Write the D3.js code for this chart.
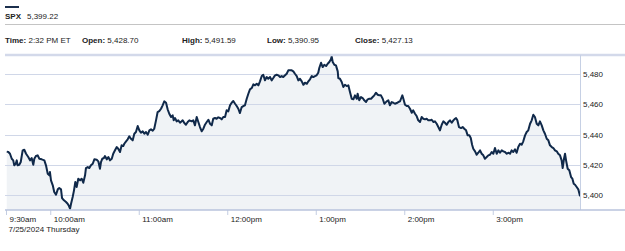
<!DOCTYPE html>
<html><head><meta charset="utf-8">
<script src="https://cdn.jsdelivr.net/npm/d3@7"></script>
<style>
body{margin:0;background:#fff}
svg{display:block;font-family:Arial,"Liberation Sans",Helvetica,sans-serif}
</style>
</head><body>
<svg id="c" width="625" height="251"></svg>
<script>
const symbol = "SPX";
const lastPrice = "5,399.22";
const statLabels = ["Time:", "Open:", "High:", "Low:", "Close:"];
const statValues = ["2:32 PM ET", "5,428.70", "5,491.59", "5,390.95", "5,427.13"];
const xTickLabels = ["9:30am", "10:00am", "11:00am", "12:00pm", "1:00pm", "2:00pm", "3:00pm"];
const xTickMinutes = [0, 30, 90, 150, 210, 270, 330];
const dateLabel = "7/25/2024 Thursday";
const yTicks = [5400, 5420, 5440, 5460, 5480];

// minutes after 9:30am
const minutes = [
0.5,1.6,2.7,3.9,4.9,5.6,6.6,7.3,7.9,9.0,10.0,11.3,12.4,13.6,15.1,16.3,17.4,18.5,19.2,20.3,21.5,22.6,24.2,26.0,27.1,28.3,29.4,29.8,30.5,31.7,32.7,33.9,35.1,36.1,37.3,38.0,39.3,40.7,41.8,42.7,43.4,44.1,45.2,46.1,47.0,47.9,49.0,50.2,51.3,52.4,53.6,54.2,55.4,56.5,57.6,58.8,59.9,
61.5,62.6,63.7,64.4,65.3,66.4,67.1,68.3,69.4,70.5,71.7,72.7,73.9,75.1,76.1,77.3,78.4,79.5,80.2,81.4,82.5,83.6,84.7,85.9,87.0,88.1,89.3,90.4,91.5,92.7,93.8,94.9,96.1,97.2,98.3,99.5,100.5,101.7,102.8,103.9,105.1,106.2,107.3,108.5,109.6,110.7,111.9,113.0,113.7,114.6,115.7,116.8,118.0,119.1,119.8,120.9,122.0,123.2,124.3,
125.9,127.0,128.1,129.3,130.4,131.5,132.7,133.8,134.9,136.1,137.2,138.3,139.5,140.5,141.7,142.8,143.9,145.1,146.2,147.3,148.5,149.6,150.7,151.9,153.0,154.1,155.3,156.4,157.5,158.6,159.8,160.9,162.0,163.2,164.3,165.4,166.6,167.7,168.8,170.0,171.1,172.2,173.4,174.4,175.6,176.7,177.8,179.0,180.1,181.2,182.4,183.5,184.6,185.8,186.9,188.0,189.2,
190.3,191.4,192.5,193.7,194.8,195.9,197.1,198.2,199.3,200.5,201.6,202.7,204.0,205.0,206.1,207.3,208.3,209.5,210.6,211.7,212.4,213.6,214.7,215.8,217.0,218.1,219.2,220.3,220.8,221.5,222.6,223.7,224.9,225.3,226.4,227.6,228.7,229.8,231.0,232.1,233.2,234.4,235.5,236.6,237.8,238.4,239.5,240.7,241.8,242.9,244.1,245.2,246.3,247.5,248.6,249.7,250.8,252.0,253.1,254.2,255.4,256.5,
258.1,259.2,260.3,261.5,262.6,263.7,264.9,266.0,267.1,267.8,268.7,269.4,270.5,271.7,272.7,273.9,275.1,276.1,277.3,278.4,279.5,280.7,281.8,282.9,284.1,285.2,286.3,287.5,288.6,289.7,290.8,292.0,293.1,294.2,295.4,296.5,297.6,298.8,299.9,301.0,302.2,303.3,304.4,305.1,306.0,307.1,308.5,309.6,310.7,311.9,313.0,314.1,315.1,316.0,316.8,318.0,319.1,320.2,321.4,
322.5,323.6,324.7,325.9,327.0,328.1,329.3,330.4,331.5,332.7,333.8,334.9,336.1,337.2,338.3,339.5,340.5,341.7,342.8,343.9,345.1,346.2,347.3,348.5,349.6,350.7,351.9,353.0,354.1,355.3,356.4,357.5,358.6,359.8,360.9,362.0,363.2,364.3,365.4,366.6,367.7,368.8,370.0,371.1,372.2,373.4,374.4,375.6,376.7,377.4,378.3,379.0,379.7,380.8,381.9,383.1,384.0,384.9,385.8,386.9,388.0,389.2
];

const prices = [
5428.70,5428.43,5427.31,5424.00,5422.94,5419.64,5420.70,5422.94,5419.64,5420.03,5421.82,5429.56,5429.95,5427.31,5425.13,5422.94,5424.46,5420.03,5424.00,5425.79,5426.25,5424.00,5423.60,5422.94,5419.64,5414.08,5413.03,5415.21,5409.72,5406.41,5401.98,5400.20,5403.77,5404.63,5403.77,5398.02,5396.50,5395.37,5394.25,5392.73,5390.95,5394.25,5398.68,5403.11,5408.60,5405.29,5410.78,5409.72,5410.78,5408.13,5413.03,5417.85,5418.51,5417.85,5419.64,5420.70,5423.60,
5423.34,5422.28,5417.39,5421.82,5424.00,5424.46,5425.79,5423.60,5425.13,5422.94,5424.00,5427.31,5429.56,5431.74,5430.61,5428.43,5432.86,5432.40,5433.92,5435.51,5436.83,5438.81,5437.23,5436.17,5440.53,5441.66,5445.62,5442.78,5441.19,5442.12,5440.53,5441.66,5439.87,5442.78,5443.44,5442.52,5443.84,5449.39,5454.88,5455.54,5457.06,5459.31,5461.95,5461.03,5456.66,5453.76,5451.57,5452.70,5449.39,5450.91,5448.73,5449.39,5447.80,5448.73,5449.39,5447.61,5446.48,5448.27,5449.39,
5448.73,5449.39,5446.09,5451.57,5448.27,5444.96,5442.12,5443.84,5446.48,5448.27,5449.79,5447.14,5446.09,5450.45,5450.91,5450.45,5451.38,5450.91,5450.05,5451.57,5451.57,5456.00,5455.34,5459.31,5461.03,5462.15,5460.37,5458.85,5457.06,5454.22,5458.19,5458.85,5459.31,5463.67,5466.98,5469.89,5470.75,5473.19,5472.53,5473.59,5472.53,5475.18,5478.68,5479.54,5475.84,5478.02,5476.90,5478.02,5475.84,5477.36,5479.15,5479.54,5479.15,5478.02,5478.68,5478.02,5479.15,
5480.20,5482.45,5482.45,5482.45,5481.79,5480.20,5478.68,5475.84,5476.90,5475.18,5472.93,5474.25,5473.59,5475.18,5476.50,5478.68,5478.02,5478.68,5479.15,5480.87,5483.97,5487.48,5484.63,5486.15,5485.29,5486.82,5487.94,5489.73,5491.59,5487.94,5486.15,5485.76,5481.79,5477.36,5476.90,5474.72,5471.41,5472.93,5472.07,5472.53,5468.10,5463.67,5463.28,5465.92,5463.67,5466.98,5462.62,5464.80,5464.14,5462.62,5461.49,5463.28,5463.67,5463.67,5464.80,5465.92,5467.64,5466.32,5465.92,5465.92,5463.67,5460.37,
5461.95,5462.62,5459.31,5461.49,5461.03,5460.37,5460.83,5461.49,5461.95,5463.67,5465.92,5463.67,5459.71,5458.85,5458.85,5457.06,5454.42,5456.00,5453.76,5452.23,5449.39,5448.27,5451.57,5450.45,5450.05,5450.45,5449.39,5449.39,5449.79,5448.27,5448.73,5447.14,5444.96,5442.78,5446.48,5448.73,5447.80,5446.48,5448.27,5449.39,5447.80,5449.39,5450.45,5450.91,5449.39,5444.96,5444.30,5444.96,5443.84,5442.78,5439.47,5439.47,5437.69,5433.26,5430.61,5428.89,5426.65,5427.97,5429.56,
5427.31,5426.25,5424.00,5425.13,5426.25,5426.65,5428.43,5427.31,5431.08,5427.31,5429.56,5427.97,5429.56,5428.89,5428.43,5427.31,5427.97,5427.31,5429.56,5428.43,5430.22,5427.97,5431.74,5433.92,5433.26,5435.51,5439.47,5441.66,5442.78,5447.14,5449.39,5453.09,5451.57,5447.14,5446.09,5448.73,5446.09,5442.78,5440.53,5437.23,5436.17,5432.86,5431.74,5431.08,5429.56,5428.89,5427.31,5426.25,5422.94,5417.85,5424.00,5427.31,5422.94,5417.39,5416.33,5411.90,5410.78,5407.47,5406.81,5405.29,5403.77,5399.22
];

const data = minutes.map((m, i) => ({ m, v: prices[i] }));

const svg = d3.select("#c");
const textColor = "#222";
const fs = 8;

const plotL = 6, plotR = 580, plotT = 55, plotB = 210;
const x = d3.scaleLinear().domain([0, 390]).range([plotL, 581.25]);
const y = d3.scaleLinear().domain([5390.1, 5492.6]).range([plotB, plotT]);

// header
svg.append("rect").attr("x", 5).attr("y", 6).attr("width", 14).attr("height", 2).attr("fill", "#1b2f4d");
const h1 = svg.append("text").attr("x", 5).attr("y", 19).attr("font-size", fs).attr("fill", textColor);
h1.append("tspan").attr("font-weight", "bold").text(symbol);
h1.append("tspan").attr("x", 27).text(lastPrice);
svg.append("line").attr("x1", 5).attr("x2", 625).attr("y1", 24.5).attr("y2", 24.5)
  .attr("stroke", "#c4c4c4").attr("stroke-width", 1);

const statX = [5, 82, 182, 267, 355];
statLabels.forEach((lab, i) => {
  const t = svg.append("text").attr("x", statX[i]).attr("y", 43).attr("font-size", fs).attr("fill", textColor);
  t.append("tspan").attr("font-weight", "bold").text(lab);
  t.append("tspan").text(" " + statValues[i]);
});

// gridlines
svg.append("g").selectAll("line").data(yTicks).join("line")
  .attr("x1", 5).attr("x2", plotR)
  .attr("y1", d => Math.round(y(d)) + 0.5).attr("y2", d => Math.round(y(d)) + 0.5)
  .attr("stroke", "#d0d7e8").attr("stroke-width", 1);

// area + line
const area = d3.area().x(d => x(d.m)).y0(plotB).y1(d => y(d.v));
svg.append("path").datum(data).attr("d", area).attr("fill", "#eef2f5").attr("fill-opacity", 0.9);
svg.selectAll(null).data(yTicks).join("line")
  .attr("x1", 5).attr("x2", plotR)
  .attr("y1", d => Math.round(y(d)) + 0.5).attr("y2", d => Math.round(y(d)) + 0.5)
  .attr("stroke", "#d0d7e8").attr("stroke-width", 1);
const line = d3.line().x(d => x(d.m)).y(d => y(d.v));
svg.append("path").datum(data).attr("d", line).attr("fill", "none")
  .attr("stroke", "#10294a").attr("stroke-width", 2).attr("stroke-linejoin", "round");

// frame
svg.append("line").attr("x1", 5).attr("x2", 625).attr("y1", plotT).attr("y2", plotT)
  .attr("stroke", "#d3d9ea").attr("stroke-width", 2.5);
svg.append("line").attr("x1", plotR + 0.5).attr("x2", plotR + 0.5).attr("y1", plotT).attr("y2", plotB)
  .attr("stroke", "#c6d0e4").attr("stroke-width", 1);

// x axis
const xAxis = d3.axisBottom(x).tickValues(xTickMinutes)
  .tickFormat((d, i) => xTickLabels[i]).tickSize(5).tickPadding(4);
const gx = svg.append("g").attr("transform", `translate(0,${plotB})`).call(xAxis);
gx.select(".domain").remove();
gx.selectAll(".tick line").attr("stroke", "#c3cde2").attr("stroke-width", 1);
gx.selectAll(".tick text").attr("text-anchor", "start").attr("x", 3).attr("y", 6).attr("dy", "0.71em")
  .attr("font-size", fs).attr("font-family", null).attr("fill", textColor);
svg.append("line").attr("x1", 5).attr("x2", 625).attr("y1", plotB).attr("y2", plotB)
  .attr("stroke", "#b8c3dc").attr("stroke-width", 1.5);
svg.append("text").attr("x", 8.5).attr("y", 232).attr("font-size", fs).attr("fill", textColor).text(dateLabel);

// y axis right
const yAxis = d3.axisRight(y).tickValues(yTicks).tickFormat(d3.format(",")).tickSize(0).tickPadding(3);
const gy = svg.append("g").attr("transform", `translate(${plotR},0)`).call(yAxis);
gy.select(".domain").remove();
gy.selectAll(".tick text").attr("font-size", fs).attr("font-family", null).attr("fill", textColor);
</script>
</body></html>
